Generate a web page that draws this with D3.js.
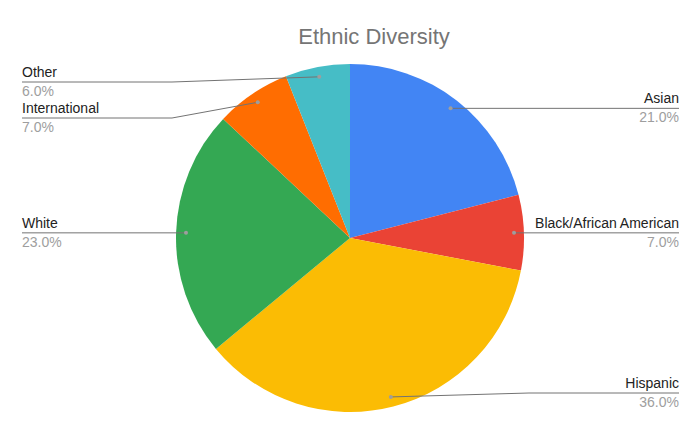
<!DOCTYPE html>
<html>
<head>
<meta charset="utf-8">
<script src="https://cdn.jsdelivr.net/npm/d3@7"></script>
<style>
  body { margin: 0; background: #fff; }
  text { font-family: Arial, "Liberation Sans", sans-serif; }
</style>
</head>
<body>
<div id="chart"></div>
<script>
var categories = ["Asian", "Black/African American", "Hispanic", "White", "International", "Other"]
var values = [21, 7, 36, 23, 7, 6]
var colors = ["#4285f4", "#ea4335", "#fbbc04", "#34a853", "#ff6d01", "#46bdc6"]

var width = 700, height = 433
var cx = 350, cy = 238, radius = 174

var svg = d3.select("#chart")
    .append("svg")
      .attr("width", width)
      .attr("height", height)

svg.append("text")
    .attr("x", 374)
    .attr("y", 44)
    .attr("text-anchor", "middle")
    .style("font-size", "22px")
    .style("fill", "#757575")
    .text("Ethnic Diversity")

var data = categories.map(function(c, i) { return {name: c, value: values[i], color: colors[i]} })

var pie = d3.pie()
    .value(function(d) { return d.value })
    .sort(null)

var arcs = pie(data)

var arc = d3.arc().innerRadius(0).outerRadius(radius)
// dots sit near the rim
var dotArc = d3.arc().innerRadius(radius * 0.943).outerRadius(radius * 0.943)

var g = svg.append("g")
    .attr("transform", "translate(" + cx + "," + cy + ")")

g.selectAll("path")
    .data(arcs)
    .enter()
    .append("path")
    .attr("d", arc)
    .attr("fill", function(d) { return d.data.color })

// label positions: start at the dot height, clamp, then push apart
var labels = arcs.map(function(d) {
    var p = dotArc.centroid(d)
    var right = (d.startAngle + d.endAngle) / 2 < Math.PI
    return {d: d, px: p[0] + cx, py: p[1] + cy, right: right, ly: p[1] + cy}
})
var minY = 82, maxY = 393, gap = 36
;[true, false].forEach(function(side) {
    var list = labels.filter(function(l) { return l.right === side })
        .sort(function(a, b) { return a.ly - b.ly })
    var prev = -Infinity
    list.forEach(function(l) {
        l.ly = Math.min(maxY, Math.max(minY, l.ly, prev + gap))
        prev = l.ly
    })
})

var leftX = 22, rightX = 679, run = 150

labels.forEach(function(l) {
    var edge = l.right ? rightX : leftX
    var elbow = l.right ? rightX - run : leftX + run
    var pts
    if (Math.abs(l.ly - l.py) < 1) pts = [[l.px, l.ly], [edge, l.ly]]
    else pts = [[l.px, l.py], [elbow, l.ly], [edge, l.ly]]

    svg.append("path")
        .attr("d", d3.line()(pts))
        .attr("fill", "none")
        .attr("stroke", "#737373")
        .attr("stroke-width", 1)

    svg.append("circle")
        .attr("cx", l.px)
        .attr("cy", l.py)
        .attr("r", 2)
        .attr("fill", "#9e9e9e")

    svg.append("text")
        .attr("x", edge)
        .attr("y", l.ly - 5)
        .attr("text-anchor", l.right ? "end" : "start")
        .style("font-size", "14px")
        .style("fill", "#222")
        .text(l.d.data.name)

    svg.append("text")
        .attr("x", edge)
        .attr("y", l.ly + 14)
        .attr("text-anchor", l.right ? "end" : "start")
        .style("font-size", "14px")
        .style("fill", "#9e9e9e")
        .text(d3.format(".1f")(l.d.data.value) + "%")
})
</script>
</body>
</html>
